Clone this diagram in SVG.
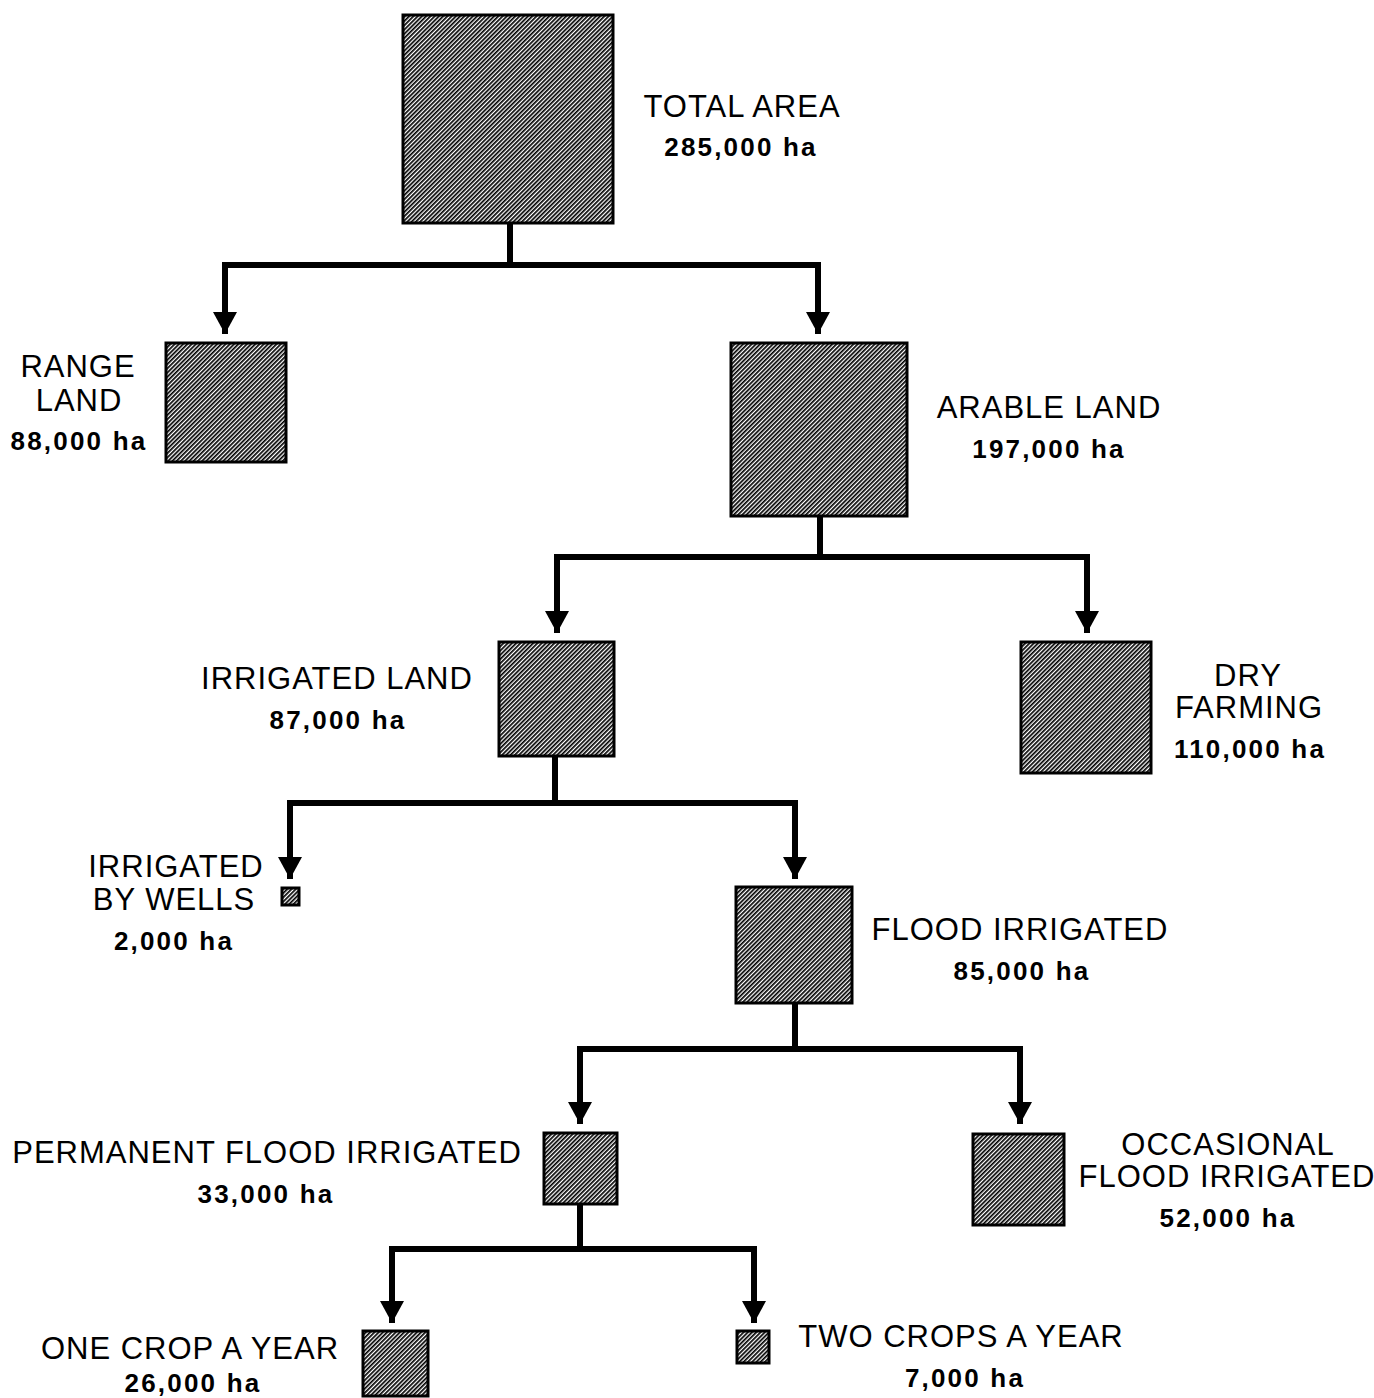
<svg xmlns="http://www.w3.org/2000/svg" width="1374" height="1398" viewBox="0 0 1374 1398">
<style>
.box{fill:url(#hatch);stroke:#000;stroke-width:3}
.lbl{font-family:"Liberation Sans",Arial,sans-serif;font-size:31px;letter-spacing:1px;fill:#000;text-anchor:middle}
.val{font-family:"Liberation Sans",Arial,sans-serif;font-size:26px;font-weight:bold;letter-spacing:2.2px;fill:#000;text-anchor:middle}
.con{fill:none;stroke:#000;stroke-width:6;stroke-linejoin:miter}
</style>
<defs>
<pattern id="hatch" patternUnits="userSpaceOnUse" width="3" height="3" patternTransform="rotate(45)">
<rect width="3" height="3" fill="#fff"/>
<rect x="0" y="0" width="1.7" height="3" fill="#000"/>
</pattern>
<marker id="arr" markerUnits="userSpaceOnUse" markerWidth="24" markerHeight="24" refX="22" refY="12" orient="auto" viewBox="0 0 24 24">
<path d="M0,0 L22,12 L0,24 Z" fill="#000"/>
</marker>
</defs>
<rect width="1374" height="1398" fill="#fff"/>
<g id="connectors">
<path class="con" d="M510,223 V265"/>
<path class="con" d="M225,265 H818"/>
<path class="con" d="M225,262 V334" marker-end="url(#arr)"/>
<path class="con" d="M818,262 V334" marker-end="url(#arr)"/>
<path class="con" d="M820,516 V557"/>
<path class="con" d="M557,557 H1087"/>
<path class="con" d="M557,554 V633" marker-end="url(#arr)"/>
<path class="con" d="M1087,554 V633" marker-end="url(#arr)"/>
<path class="con" d="M555,756 V803"/>
<path class="con" d="M290,803 H795"/>
<path class="con" d="M290,800 V879" marker-end="url(#arr)"/>
<path class="con" d="M795,800 V879" marker-end="url(#arr)"/>
<path class="con" d="M795,1003 V1049"/>
<path class="con" d="M580,1049 H1020"/>
<path class="con" d="M580,1046 V1124" marker-end="url(#arr)"/>
<path class="con" d="M1020,1046 V1124" marker-end="url(#arr)"/>
<path class="con" d="M580,1204 V1249"/>
<path class="con" d="M392,1249 H754"/>
<path class="con" d="M392,1246 V1323" marker-end="url(#arr)"/>
<path class="con" d="M754,1246 V1323" marker-end="url(#arr)"/>
</g>
<g id="total-area">
<rect class="box" x="403" y="15" width="210" height="208"/>
<text class="lbl" x="742" y="117">TOTAL AREA</text>
<text class="val" x="741" y="156">285,000 ha</text>
</g>
<g id="range-land">
<rect class="box" x="166" y="343" width="120" height="119"/>
<text class="lbl" x="78" y="377">RANGE</text>
<text class="lbl" x="79" y="411">LAND</text>
<text class="val" x="79" y="450">88,000 ha</text>
</g>
<g id="arable-land">
<rect class="box" x="731" y="343" width="176" height="173"/>
<text class="lbl" x="1049" y="418">ARABLE LAND</text>
<text class="val" x="1049" y="458">197,000 ha</text>
</g>
<g id="irrigated-land">
<rect class="box" x="499" y="642" width="115" height="114"/>
<text class="lbl" x="337" y="689">IRRIGATED LAND</text>
<text class="val" x="338" y="729">87,000 ha</text>
</g>
<g id="dry-farming">
<rect class="box" x="1021" y="642" width="130" height="131"/>
<text class="lbl" x="1248" y="686">DRY</text>
<text class="lbl" x="1249" y="718">FARMING</text>
<text class="val" x="1250" y="758">110,000 ha</text>
</g>
<g id="irrigated-by-wells">
<rect class="box" x="282" y="888" width="17" height="17"/>
<text class="lbl" x="176" y="877">IRRIGATED</text>
<text class="lbl" x="174" y="910">BY WELLS</text>
<text class="val" x="174" y="950">2,000 ha</text>
</g>
<g id="flood-irrigated">
<rect class="box" x="736" y="887" width="116" height="116"/>
<text class="lbl" x="1020" y="940">FLOOD IRRIGATED</text>
<text class="val" x="1022" y="980">85,000 ha</text>
</g>
<g id="permanent-flood-irrigated">
<rect class="box" x="544" y="1133" width="73" height="71"/>
<text class="lbl" x="267" y="1163">PERMANENT FLOOD IRRIGATED</text>
<text class="val" x="266" y="1203">33,000 ha</text>
</g>
<g id="occasional-flood-irrigated">
<rect class="box" x="973" y="1134" width="91" height="91"/>
<text class="lbl" x="1228" y="1155">OCCASIONAL</text>
<text class="lbl" x="1227" y="1187">FLOOD IRRIGATED</text>
<text class="val" x="1228" y="1227">52,000 ha</text>
</g>
<g id="one-crop">
<rect class="box" x="363" y="1331" width="65" height="65"/>
<text class="lbl" x="190" y="1359">ONE CROP A YEAR</text>
<text class="val" x="193" y="1392">26,000 ha</text>
</g>
<g id="two-crops">
<rect class="box" x="737" y="1331" width="32" height="32"/>
<text class="lbl" x="961" y="1347">TWO CROPS A YEAR</text>
<text class="val" x="965" y="1387">7,000 ha</text>
</g>
</svg>
